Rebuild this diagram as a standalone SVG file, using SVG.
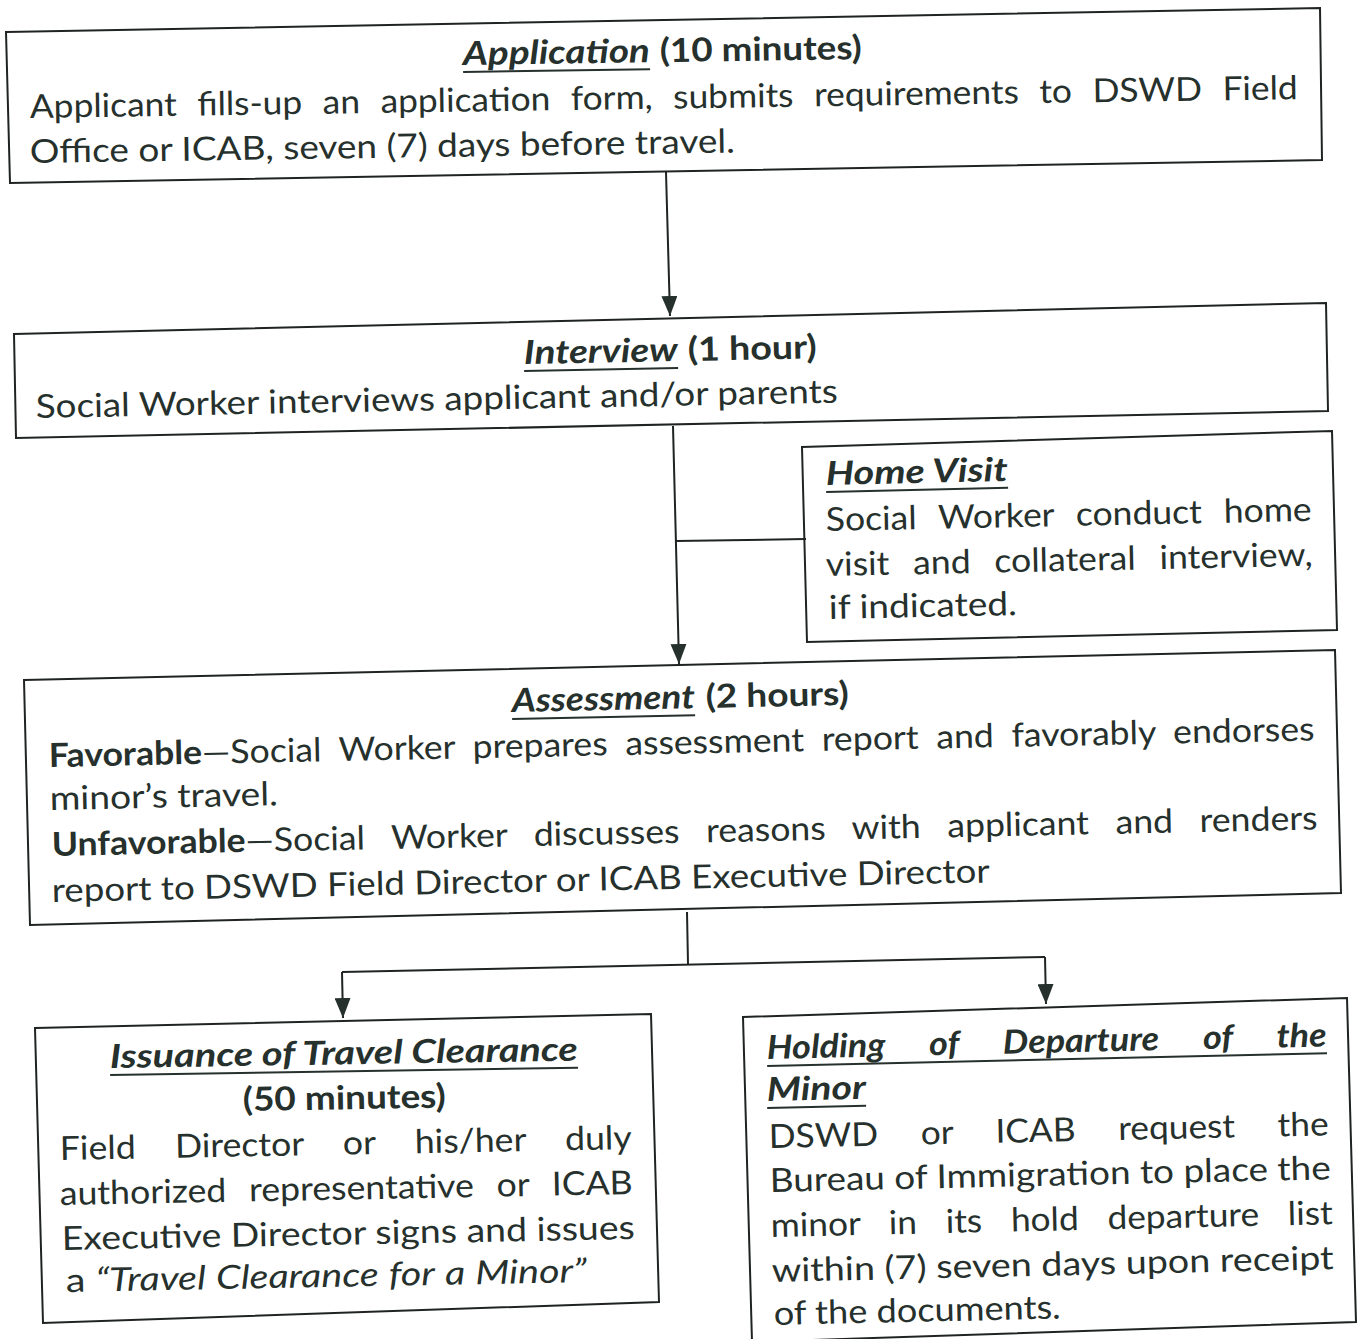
<svg xmlns="http://www.w3.org/2000/svg" width="1359" height="1339" viewBox="0 0 1359 1339">
<defs>
<style>
.box{fill:none;stroke:#1f2421;stroke-width:2}
.ln{fill:none;stroke:#1f2421;stroke-width:2}
.ul{stroke:#26302c;stroke-width:2}
text{font-family:Lato,"Open Sans","Liberation Sans",sans-serif;font-size:33px;fill:#26302c}
.t{font-weight:bold;font-style:italic}
.b{font-weight:bold}
.i{font-style:italic}
</style>
<marker id="ah" markerUnits="userSpaceOnUse" viewBox="0 0 20 16" refX="20" refY="8" markerWidth="20" markerHeight="16" orient="auto">
<path d="M0,0 L20,8 L0,16 Z" fill="#26302c"/>
</marker>
</defs>
<rect width="1359" height="1339" fill="#ffffff"/>

<g id="connectors">
<path class="ln" d="M666,172 L670,316" marker-end="url(#ah)"/>
<path class="ln" d="M673,426 L679,664" marker-end="url(#ah)"/>
<path class="ln" d="M676,541 L806,539"/>
<path class="ln" d="M687,912 L688,964"/>
<path class="ln" d="M342,972 L1045,957"/>
<path class="ln" d="M342,972 L343,1018" marker-end="url(#ah)"/>
<path class="ln" d="M1045,957 L1046,1004" marker-end="url(#ah)"/>
</g>

<g id="application">
<polygon class="box" points="6,32 1320,8 1322,160 10,183"/>
<g transform="translate(463 65) rotate(-0.85)">
<text class="t" x="0" y="0" textLength="187" lengthAdjust="spacingAndGlyphs">Application</text>
<line class="ul" x1="0" y1="7" x2="187" y2="7"/>
<text class="b" x="197" y="0" textLength="202" lengthAdjust="spacingAndGlyphs"><tspan>(10</tspan> <tspan>minutes)</tspan></text>
</g>
<text transform="translate(30 118) rotate(-0.85)" word-spacing="10.7" textLength="1268" lengthAdjust="spacingAndGlyphs"><tspan>Applicant</tspan> <tspan>fills-up</tspan> <tspan>an</tspan> <tspan>application</tspan> <tspan>form,</tspan> <tspan>submits</tspan> <tspan>requirements</tspan> <tspan>to</tspan> <tspan>DSWD</tspan> <tspan>Field</tspan></text>
<text transform="translate(30 163) rotate(-0.85)" textLength="705" lengthAdjust="spacingAndGlyphs"><tspan>Office</tspan> <tspan>or</tspan> <tspan>ICAB,</tspan> <tspan>seven</tspan> <tspan>(7)</tspan> <tspan>days</tspan> <tspan>before</tspan> <tspan>travel.</tspan></text>
</g>

<g id="interview">
<polygon class="box" points="14,334 1326,303 1328,411 16,438"/>
<g transform="translate(524 364) rotate(-1.1)">
<text class="t" x="0" y="0" textLength="154" lengthAdjust="spacingAndGlyphs">Interview</text>
<line class="ul" x1="0" y1="7" x2="154" y2="7"/>
<text class="b" x="164" y="0" textLength="129" lengthAdjust="spacingAndGlyphs"><tspan>(1</tspan> <tspan>hour)</tspan></text>
</g>
<text transform="translate(36 418) rotate(-1.1)" textLength="802" lengthAdjust="spacingAndGlyphs"><tspan>Social</tspan> <tspan>Worker</tspan> <tspan>interviews</tspan> <tspan>applicant</tspan> <tspan>and/or</tspan> <tspan>parents</tspan></text>
</g>

<g id="home-visit">
<polygon class="box" points="802,447 1332,431 1337,630 807,642"/>
<g transform="translate(826 485) rotate(-1.3)">
<text class="t" x="0" y="0" textLength="182" lengthAdjust="spacingAndGlyphs"><tspan>Home</tspan> <tspan>Visit</tspan></text>
<line class="ul" x1="0" y1="7" x2="182" y2="7"/>
</g>
<text transform="translate(826 531) rotate(-1.2)" word-spacing="12" textLength="486" lengthAdjust="spacingAndGlyphs"><tspan>Social</tspan> <tspan>Worker</tspan> <tspan>conduct</tspan> <tspan>home</tspan></text>
<text transform="translate(826 576) rotate(-1.2)" word-spacing="13.6" textLength="487" lengthAdjust="spacingAndGlyphs"><tspan>visit</tspan> <tspan>and</tspan> <tspan>collateral</tspan> <tspan>interview,</tspan></text>
<text transform="translate(829 619) rotate(-1.2)" textLength="188" lengthAdjust="spacingAndGlyphs"><tspan>if</tspan> <tspan>indicated.</tspan></text>
</g>

<g id="assessment">
<polygon class="box" points="24,680 1335,650 1341,893 30,925"/>
<g transform="translate(512 712) rotate(-1.2)">
<text class="t" x="0" y="0" textLength="183" lengthAdjust="spacingAndGlyphs">Assessment</text>
<line class="ul" x1="0" y1="7" x2="183" y2="7"/>
<text class="b" x="194" y="0" textLength="143" lengthAdjust="spacingAndGlyphs"><tspan>(2</tspan> <tspan>hours)</tspan></text>
</g>
<text transform="translate(49 767) rotate(-1.2)" word-spacing="7.9" textLength="1266" lengthAdjust="spacingAndGlyphs"><tspan class="b">Favorable</tspan><tspan>—Social</tspan> <tspan>Worker</tspan> <tspan>prepares</tspan> <tspan>assessment</tspan> <tspan>report</tspan> <tspan>and</tspan> <tspan>favorably</tspan> <tspan>endorses</tspan></text>
<text transform="translate(50 810) rotate(-1.2)" textLength="228" lengthAdjust="spacingAndGlyphs"><tspan>minor’s</tspan> <tspan>travel.</tspan></text>
<text transform="translate(52 856) rotate(-1.2)" word-spacing="16.2" textLength="1266" lengthAdjust="spacingAndGlyphs"><tspan class="b">Unfavorable</tspan><tspan>—Social</tspan> <tspan>Worker</tspan> <tspan>discusses</tspan> <tspan>reasons</tspan> <tspan>with</tspan> <tspan>applicant</tspan> <tspan>and</tspan> <tspan>renders</tspan></text>
<text transform="translate(52 902) rotate(-1.2)" textLength="938" lengthAdjust="spacingAndGlyphs"><tspan>report</tspan> <tspan>to</tspan> <tspan>DSWD</tspan> <tspan>Field</tspan> <tspan>Director</tspan> <tspan>or</tspan> <tspan>ICAB</tspan> <tspan>Executive</tspan> <tspan>Director</tspan></text>
</g>

<g id="issuance">
<polygon class="box" points="35,1028 651,1014 659,1302 43,1323"/>
<g transform="translate(110 1068) rotate(-0.9)">
<text class="t" x="0" y="0" textLength="468" lengthAdjust="spacingAndGlyphs"><tspan>Issuance</tspan> <tspan>of</tspan> <tspan>Travel</tspan> <tspan>Clearance</tspan></text>
<line class="ul" x1="0" y1="7" x2="468" y2="7"/>
</g>
<text class="b" transform="translate(243 1111) rotate(-1)" textLength="203" lengthAdjust="spacingAndGlyphs"><tspan>(50</tspan> <tspan>minutes)</tspan></text>
<text transform="translate(60 1160) rotate(-1.1)" word-spacing="28" textLength="572" lengthAdjust="spacingAndGlyphs"><tspan>Field</tspan> <tspan>Director</tspan> <tspan>or</tspan> <tspan>his/her</tspan> <tspan>duly</tspan></text>
<text transform="translate(60 1205) rotate(-1.1)" word-spacing="12.6" textLength="573" lengthAdjust="spacingAndGlyphs"><tspan>authorized</tspan> <tspan>representative</tspan> <tspan>or</tspan> <tspan>ICAB</tspan></text>
<text transform="translate(62 1250) rotate(-1.1)" textLength="573" lengthAdjust="spacingAndGlyphs"><tspan>Executive</tspan> <tspan>Director</tspan> <tspan>signs</tspan> <tspan>and</tspan> <tspan>issues</tspan></text>
<text transform="translate(66 1292) rotate(-1.1)" textLength="521" lengthAdjust="spacingAndGlyphs"><tspan>a</tspan> <tspan class="i">“Travel</tspan> <tspan class="i">Clearance</tspan> <tspan class="i">for</tspan> <tspan class="i">a</tspan> <tspan class="i">Minor”</tspan></text>
</g>

<g id="holding">
<polygon class="box" points="743,1017 1347,998 1356,1322 752,1342"/>
<g transform="translate(767 1059) rotate(-1.3)">
<text class="t" x="0" y="0" word-spacing="33" textLength="560" lengthAdjust="spacingAndGlyphs"><tspan>Holding</tspan> <tspan>of</tspan> <tspan>Departure</tspan> <tspan>of</tspan> <tspan>the</tspan></text>
<line class="ul" x1="0" y1="7" x2="560" y2="7"/>
</g>
<g transform="translate(767 1101) rotate(-1.3)">
<text class="t" x="0" y="0" textLength="99" lengthAdjust="spacingAndGlyphs">Minor</text>
<line class="ul" x1="0" y1="7" x2="99" y2="7"/>
</g>
<text transform="translate(769 1148) rotate(-1.3)" word-spacing="31.4" textLength="560" lengthAdjust="spacingAndGlyphs"><tspan>DSWD</tspan> <tspan>or</tspan> <tspan>ICAB</tspan> <tspan>request</tspan> <tspan>the</tspan></text>
<text transform="translate(770 1192) rotate(-1.3)" textLength="561" lengthAdjust="spacingAndGlyphs"><tspan>Bureau</tspan> <tspan>of</tspan> <tspan>Immigration</tspan> <tspan>to</tspan> <tspan>place</tspan> <tspan>the</tspan></text>
<text transform="translate(771 1237) rotate(-1.3)" word-spacing="18.4" textLength="562" lengthAdjust="spacingAndGlyphs"><tspan>minor</tspan> <tspan>in</tspan> <tspan>its</tspan> <tspan>hold</tspan> <tspan>departure</tspan> <tspan>list</tspan></text>
<text transform="translate(772 1282) rotate(-1.3)" textLength="562" lengthAdjust="spacingAndGlyphs"><tspan>within</tspan> <tspan>(7)</tspan> <tspan>seven</tspan> <tspan>days</tspan> <tspan>upon</tspan> <tspan>receipt</tspan></text>
<text transform="translate(774 1325) rotate(-1.3)" textLength="287" lengthAdjust="spacingAndGlyphs"><tspan>of</tspan> <tspan>the</tspan> <tspan>documents.</tspan></text>
</g>
</svg>
